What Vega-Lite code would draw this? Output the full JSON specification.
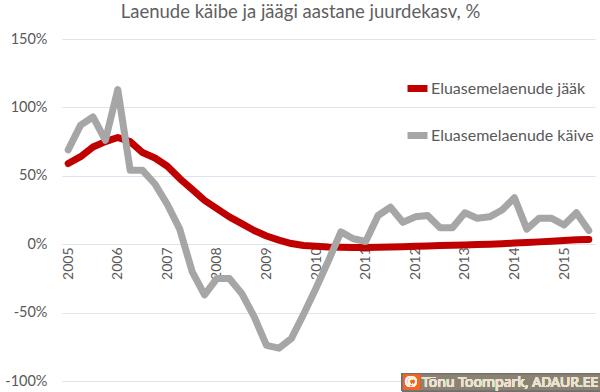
{
  "$schema": "https://vega.github.io/schema/vega-lite/v6.json",
  "autosize": "none",
  "width": 533,
  "height": 342,
  "padding": {"left": 62, "top": 39, "right": 5, "bottom": 11},
  "background": "white",
  "title": {
    "text": "Laenude käibe ja jäägi aastane juurdekasv, %",
    "font": "Lato",
    "fontSize": 18.5,
    "fontWeight": 400,
    "color": "#5f5f5f",
    "anchor": "middle",
    "dx": -28,
    "offset": 10
  },
  "config": {
    "view": {"stroke": null},
    "font": "Lato"
  },
  "data": {
    "values": [
      {"p": "2005Q1", "Eluasemelaenude jääk": 59, "Eluasemelaenude käive": 69},
      {"p": "2005Q2", "Eluasemelaenude jääk": 64, "Eluasemelaenude käive": 87},
      {"p": "2005Q3", "Eluasemelaenude jääk": 71, "Eluasemelaenude käive": 93},
      {"p": "2005Q4", "Eluasemelaenude jääk": 75, "Eluasemelaenude käive": 76},
      {"p": "2006Q1", "Eluasemelaenude jääk": 78, "Eluasemelaenude käive": 113},
      {"p": "2006Q2", "Eluasemelaenude jääk": 75, "Eluasemelaenude käive": 54},
      {"p": "2006Q3", "Eluasemelaenude jääk": 67, "Eluasemelaenude käive": 54},
      {"p": "2006Q4", "Eluasemelaenude jääk": 63, "Eluasemelaenude käive": 44},
      {"p": "2007Q1", "Eluasemelaenude jääk": 57, "Eluasemelaenude käive": 29},
      {"p": "2007Q2", "Eluasemelaenude jääk": 48, "Eluasemelaenude käive": 11},
      {"p": "2007Q3", "Eluasemelaenude jääk": 40, "Eluasemelaenude käive": -20},
      {"p": "2007Q4", "Eluasemelaenude jääk": 32, "Eluasemelaenude käive": -37},
      {"p": "2008Q1", "Eluasemelaenude jääk": 26, "Eluasemelaenude käive": -25},
      {"p": "2008Q2", "Eluasemelaenude jääk": 20, "Eluasemelaenude käive": -25},
      {"p": "2008Q3", "Eluasemelaenude jääk": 15, "Eluasemelaenude käive": -36},
      {"p": "2008Q4", "Eluasemelaenude jääk": 10, "Eluasemelaenude käive": -53},
      {"p": "2009Q1", "Eluasemelaenude jääk": 6, "Eluasemelaenude käive": -74},
      {"p": "2009Q2", "Eluasemelaenude jääk": 3, "Eluasemelaenude käive": -76},
      {"p": "2009Q3", "Eluasemelaenude jääk": 0.5, "Eluasemelaenude käive": -69},
      {"p": "2009Q4", "Eluasemelaenude jääk": -1, "Eluasemelaenude käive": -51},
      {"p": "2010Q1", "Eluasemelaenude jääk": -1.5, "Eluasemelaenude käive": -32},
      {"p": "2010Q2", "Eluasemelaenude jääk": -2, "Eluasemelaenude käive": -12},
      {"p": "2010Q3", "Eluasemelaenude jääk": -2.2, "Eluasemelaenude käive": 9},
      {"p": "2010Q4", "Eluasemelaenude jääk": -2.5, "Eluasemelaenude käive": 4},
      {"p": "2011Q1", "Eluasemelaenude jääk": -2.5, "Eluasemelaenude käive": 2},
      {"p": "2011Q2", "Eluasemelaenude jääk": -2.3, "Eluasemelaenude käive": 21},
      {"p": "2011Q3", "Eluasemelaenude jääk": -2, "Eluasemelaenude käive": 27},
      {"p": "2011Q4", "Eluasemelaenude jääk": -1.8, "Eluasemelaenude käive": 16},
      {"p": "2012Q1", "Eluasemelaenude jääk": -1.5, "Eluasemelaenude käive": 20},
      {"p": "2012Q2", "Eluasemelaenude jääk": -1.3, "Eluasemelaenude käive": 21},
      {"p": "2012Q3", "Eluasemelaenude jääk": -1, "Eluasemelaenude käive": 12},
      {"p": "2012Q4", "Eluasemelaenude jääk": -0.8, "Eluasemelaenude käive": 12},
      {"p": "2013Q1", "Eluasemelaenude jääk": -0.5, "Eluasemelaenude käive": 23},
      {"p": "2013Q2", "Eluasemelaenude jääk": -0.3, "Eluasemelaenude käive": 19},
      {"p": "2013Q3", "Eluasemelaenude jääk": 0, "Eluasemelaenude käive": 20},
      {"p": "2013Q4", "Eluasemelaenude jääk": 0.3, "Eluasemelaenude käive": 25},
      {"p": "2014Q1", "Eluasemelaenude jääk": 0.8, "Eluasemelaenude käive": 34},
      {"p": "2014Q2", "Eluasemelaenude jääk": 1.2, "Eluasemelaenude käive": 11},
      {"p": "2014Q3", "Eluasemelaenude jääk": 1.7, "Eluasemelaenude käive": 19},
      {"p": "2014Q4", "Eluasemelaenude jääk": 2.2, "Eluasemelaenude käive": 19},
      {"p": "2015Q1", "Eluasemelaenude jääk": 2.7, "Eluasemelaenude käive": 14},
      {"p": "2015Q2", "Eluasemelaenude jääk": 3.2, "Eluasemelaenude käive": 23},
      {"p": "2015Q3", "Eluasemelaenude jääk": 3.5, "Eluasemelaenude käive": 10}
    ]
  },
  "layer": [
    {
      "transform": [
        {"fold": ["Eluasemelaenude jääk", "Eluasemelaenude käive"], "as": ["series", "value"]}
      ],
      "mark": {"type": "line", "strokeWidth": 7, "strokeCap": "round", "strokeJoin": "round"},
      "encoding": {
        "x": {
          "field": "p",
          "type": "ordinal",
          "sort": null,
          "scale": {"type": "point", "padding": 0.5},
          "axis": {
            "title": null,
            "orient": "bottom",
            "offset": -137,
            "domain": false,
            "ticks": false,
            "grid": false,
            "labelAngle": -90,
            "labelPadding": 3,
            "labelFontSize": 14,
            "labelColor": "#595959",
            "labelFont": "Lato",
            "values": ["2005Q1", "2006Q1", "2007Q1", "2008Q1", "2009Q1", "2010Q1", "2011Q1", "2012Q1", "2013Q1", "2014Q1", "2015Q1"],
            "labelExpr": "slice(datum.value, 0, 4)"
          }
        },
        "y": {
          "field": "value",
          "type": "quantitative",
          "scale": {"domain": [-100, 150], "nice": false},
          "axis": {
            "title": null,
            "values": [-100, -50, 0, 50, 100, 150],
            "labelExpr": "datum.value + '%'",
            "domain": false,
            "ticks": false,
            "labelPadding": 15,
            "labelFontSize": 14.5,
            "labelColor": "#595959",
            "labelFont": "Lato",
            "gridColor": "#dce4ef",
            "gridWidth": 1
          }
        },
        "color": {
          "field": "series",
          "type": "nominal",
          "scale": {
            "domain": ["Eluasemelaenude jääk", "Eluasemelaenude käive"],
            "range": ["#c00000", "#a6a6a6"]
          },
          "legend": {
            "title": null,
            "orient": "none",
            "legendX": 342,
            "legendY": 36,
            "symbolType": "stroke",
            "symbolSize": 400,
            "symbolStrokeWidth": 7,
            "labelFontSize": 16,
            "labelColor": "#595959",
            "labelFont": "Lato",
            "labelOffset": 0,
            "labelLimit": 400,
            "rowPadding": 18
          }
        }
      }
    },
    {
      "mark": {"type": "point", "shape": "M-1,-0.085H1V0.085H-1Z", "size": 40000, "filled": true, "fill": "#8b8272", "stroke": "#707070", "strokeWidth": 1, "opacity": 1, "clip": false},
      "encoding": {
        "x": {"datum": "2013Q4"},
        "y": {"datum": -101}
      }
    },
    {
      "mark": {"type": "point", "shape": "M-0.99,-0.075H-0.82V0.075H-0.99Z", "size": 40000, "filled": true, "fill": "#f26522", "strokeWidth": 0, "opacity": 1, "clip": false},
      "encoding": {
        "x": {"datum": "2013Q4"},
        "y": {"datum": -101}
      }
    },
    {
      "mark": {"type": "text", "text": "©", "font": "Noto Sans", "fontSize": 15, "color": "#fff4ea", "align": "center", "baseline": "middle", "dx": -91, "dy": 0, "clip": false},
      "encoding": {
        "x": {"datum": "2013Q4"},
        "y": {"datum": -101}
      }
    },
    {
      "mark": {"type": "text", "text": "Tõnu Toompark, ADAUR.EE", "font": "Noto Sans", "fontSize": 14, "fontWeight": 400, "color": "#e9e3d3", "align": "left", "baseline": "middle", "dx": -80, "dy": 1, "clip": false},
      "encoding": {
        "x": {"datum": "2013Q4"},
        "y": {"datum": -101}
      }
    }
  ]
}
